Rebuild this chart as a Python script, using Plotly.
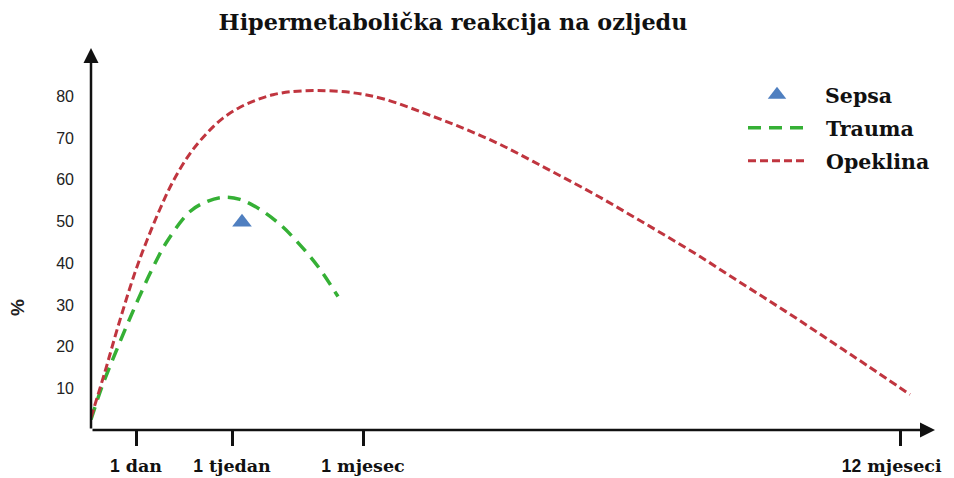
import plotly.graph_objects as go

# ---- data (x in arbitrary time units along the axis, y in %) ----
tick_pos = [4.5, 14.1, 27.2, 80.9]
tick_num = ["1", "1", "1", "12"]
tick_word = ["dan", "tjedan", "mjesec", "mjeseci"]

y_ticks = [10, 20, 30, 40, 50, 60, 70, 80]

opeklina_x = [0, 1.4, 2.7, 4.4, 5.6, 6.9, 8.2, 9.9, 11.6, 13.2, 14.9, 16.6, 18.2, 19.9, 22.6,
              26.1, 29.4, 34.2, 37.6, 40.9, 44.2, 47.6, 50.9, 54.2, 57.6, 60.9, 64.2, 67.6,
              70.9, 74.2, 77.6, 81.9]
opeklina_y = [3.0, 14.0, 24.8, 37.8, 45.5, 53.0, 59.6, 66.3, 71.2, 74.8, 77.4, 79.2, 80.4, 81.1, 81.4,
              80.9, 79.3, 75.2, 72.0, 68.5, 64.4, 60.1, 55.8, 51.2, 46.4, 41.6, 36.5, 31.3,
              26.2, 20.9, 15.5, 8.5]

trauma_x = [0, 1.1, 2.7, 4.4, 6.1, 7.6, 9.9, 11.6, 13.2, 14.9, 16.9, 18.9, 20.6, 22.7, 24.7]
trauma_y = [2.5, 10.4, 20.0, 29.6, 38.5, 45.2, 52.4, 54.8, 55.8, 55.3, 52.9, 49.3, 45.2, 39.2, 32.0]

sepsa_x = [15.1]
sepsa_y = [49.8]

x_end = 84.4
y_end = 91.6

SERIF = "DejaVu Serif"
SANS = "Liberation Sans"

ticktext = [f"<b><span style='font-family:{SANS}'>{n}</span> {w}</b>" for n, w in zip(tick_num, tick_word)]
ticktext[-1] += "&nbsp;&nbsp;&nbsp;"  # keep the last label inside the page

fig = go.Figure()

fig.add_trace(go.Scatter(
    x=sepsa_x, y=sepsa_y, mode="markers", name="&nbsp;&nbsp;<b>Sepsa</b>",
    marker=dict(symbol="triangle-up", size=17, color="#4f7fc0"),
    legend="legend",
))
fig.add_trace(go.Scatter(
    x=trauma_x, y=trauma_y, mode="lines", name="&nbsp;&nbsp;<b>Trauma</b>", line_shape="spline",
    line=dict(color="#35b035", width=3.5, dash="13px,8px"),
    legend="legend2",
))
fig.add_trace(go.Scatter(
    x=opeklina_x, y=opeklina_y, mode="lines", name="&nbsp;&nbsp;<b>Opeklina</b>", line_shape="spline",
    line=dict(color="#c0353f", width=3, dash="8px,4px"),
    legend="legend3",
))

# page has an 8px body margin; figure size and margins are in figure pixels
OFF = 8
W, H = 954 - OFF, 478 - OFF
L, R, T, B = 91 - OFF, 13, 46 - OFF, 48
pw = W - L - R
ph = H - T - B

def px_x(p):  # page pixel -> plot-area paper fraction
    return (p - OFF - L) / pw

def px_y(p):
    return (H - B - (p - OFF)) / ph

leg_common = dict(font=dict(family=SERIF, size=20.5, color="#111"), bgcolor="rgba(0,0,0,0)",
                  xanchor="left", yanchor="middle", itemwidth=60)
fig.update_layout(
    width=W, height=H,
    margin=dict(l=L, r=R, t=T, b=B, autoexpand=False),
    paper_bgcolor="white", plot_bgcolor="white",
    title=dict(text="<b>Hipermetabolička reakcija na ozljedu</b>",
               font=dict(family=SERIF, size=22.3, color="#111"),
               x=(453 - OFF) / W, xanchor="center", y=1 - (22 - OFF) / H, yanchor="middle"),
    xaxis=dict(range=[0, pw / 10], showgrid=False, zeroline=False, showline=False,
               automargin=False, ticklabeloverflow="allow",
               tickmode="array", tickvals=tick_pos, ticktext=ticktext,
               ticks="outside", ticklen=15, tickwidth=2.5, tickcolor="#111",
               tickfont=dict(family=SERIF, size=17.5, color="#111"),
               ticklabelstandoff=5),
    yaxis=dict(range=[0, ph / 4.17], showgrid=False, zeroline=False, showline=False,
               automargin=False,
               tickmode="array", tickvals=y_ticks, ticks="",
               tickprefix="<b>", ticksuffix="</b>",
               tickfont=dict(family=SANS, size=16, color="#222"),
               ticklabelstandoff=16),
    showlegend=True,
    legend=dict(x=px_x(742), y=px_y(95), **leg_common),
    legend2=dict(x=px_x(743), y=px_y(128), **leg_common),
    legend3=dict(x=px_x(743), y=px_y(161), **leg_common),
)

# axis lines with arrowheads
fig.add_annotation(x=x_end, y=0, ax=0, ay=0, xref="x", yref="y", axref="x", ayref="y",
                   showarrow=True, arrowhead=2, arrowsize=1.2, arrowwidth=2.5, arrowcolor="#111", text="")
fig.add_annotation(x=0, y=y_end, ax=0, ay=0, xref="x", yref="y", axref="x", ayref="y",
                   showarrow=True, arrowhead=2, arrowsize=1.2, arrowwidth=2.5, arrowcolor="#111", text="")

# y axis title
fig.add_annotation(x=px_x(17), y=px_y(308), xref="paper", yref="paper", text="<b>%</b>",
                   xanchor="center", yanchor="middle",
                   textangle=-90, showarrow=False, font=dict(family=SANS, size=19, color="#222"))

fig.write_html("out.html")
